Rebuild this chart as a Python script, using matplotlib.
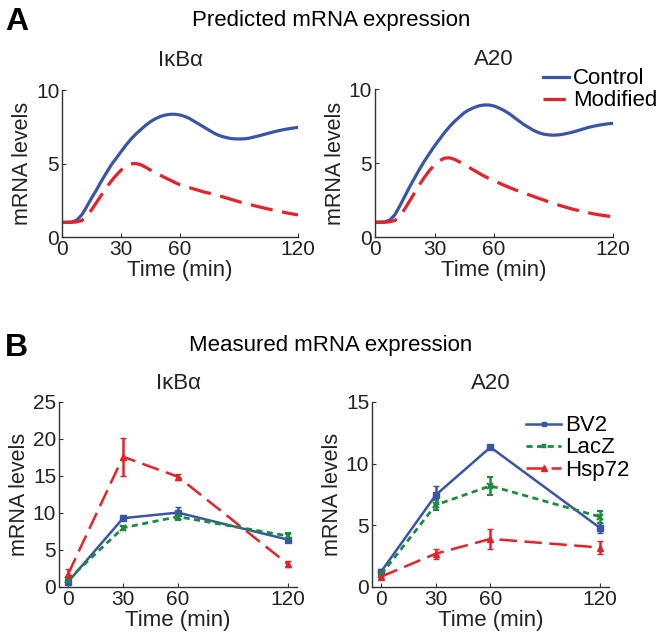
import numpy as np
import matplotlib.pyplot as plt
from matplotlib.lines import Line2D

plt.rcParams['font.family'] = ['Liberation Sans', 'DejaVu Sans']

# predicted curves (every 2.5 min)
t_pred = np.arange(0, 120.1, 2.5)
ikb_control = [1.0, 1.0, 1.02, 1.15, 1.5, 2.05, 2.65, 3.2, 3.8, 4.35, 4.9, 5.35, 5.8,
               6.25, 6.65, 7.0, 7.3, 7.6, 7.85, 8.05, 8.2, 8.3, 8.35, 8.35, 8.3, 8.2,
               8.05, 7.85, 7.65, 7.45, 7.25, 7.05, 6.9, 6.8, 6.72, 6.68, 6.67, 6.68,
               6.72, 6.8, 6.88, 6.97, 7.06, 7.15, 7.23, 7.3, 7.36, 7.41, 7.46]
ikb_modified = [1.0, 1.0, 1.0, 1.03, 1.12, 1.4, 1.85, 2.35, 2.85, 3.35, 3.8, 4.2, 4.55,
                4.82, 4.98, 5.0, 4.92, 4.75, 4.55, 4.37, 4.2, 4.03, 3.87, 3.7, 3.55, 3.45,
                3.35, 3.25, 3.15, 3.05, 2.98, 2.9, 2.8, 2.7, 2.6, 2.5, 2.4, 2.31, 2.22,
                2.14, 2.06, 1.98, 1.9, 1.83, 1.76, 1.69, 1.62, 1.56, 1.5]
a20_control = [1.0, 1.0, 1.02, 1.15, 1.5, 2.1, 2.75, 3.4, 4.0, 4.6, 5.15, 5.65, 6.15,
               6.6, 7.05, 7.45, 7.8, 8.1, 8.4, 8.6, 8.75, 8.87, 8.92, 8.92, 8.85, 8.72,
               8.55, 8.35, 8.1, 7.85, 7.6, 7.4, 7.2, 7.05, 6.95, 6.9, 6.88, 6.9, 6.95,
               7.02, 7.1, 7.2, 7.3, 7.4, 7.48, 7.55, 7.6, 7.65, 7.68]
a20_modified = [1.0, 1.0, 1.0, 1.03, 1.12, 1.4, 1.9, 2.45, 3.0, 3.55, 4.05, 4.5, 4.87,
                5.15, 5.33, 5.35, 5.25, 5.08, 4.9, 4.7, 4.5, 4.3, 4.12, 3.95, 3.8, 3.65,
                3.5, 3.36, 3.22, 3.1, 2.98, 2.86, 2.74, 2.62, 2.5, 2.38, 2.27, 2.16, 2.06,
                1.96, 1.87, 1.79, 1.71, 1.64, 1.57, 1.51, 1.46, 1.41, 1.37]

# measured data
t_meas = [0, 30, 60, 120]
ikb_bv2 = [0.7, 9.3, 10.05, 6.4]
ikb_bv2_err = [0.3, 0.3, 0.8, 0.3]
ikb_lacz = [1.0, 8.0, 9.5, 6.9]
ikb_lacz_err = [0.3, 0.3, 0.4, 0.4]
ikb_hsp = [1.75, 17.6, 14.9, 3.1]
ikb_hsp_err = [0.7, 2.6, 0.4, 0.4]
a20_bv2 = [1.24, 7.46, 11.33, 4.8]
a20_bv2_err = [0.2, 0.7, 0.1, 0.4]
a20_lacz = [1.0, 6.65, 8.2, 5.7]
a20_lacz_err = [0.2, 0.4, 0.75, 0.5]
a20_hsp = [0.84, 2.7, 3.9, 3.2]
a20_hsp_err = [0.1, 0.4, 0.8, 0.5]

blue = '#3a55a6'
red = '#e8202a'
green = '#1b8c3e'
axcol = '#333333'
txtcol = '#222222'

fig = plt.figure(figsize=(6.62, 6.39), dpi=100)


def style(ax, yticks):
    ax.spines['top'].set_visible(False)
    ax.spines['right'].set_visible(False)
    for s in ('left', 'bottom'):
        ax.spines[s].set_color(axcol)
        ax.spines[s].set_linewidth(1.0)
    ax.set_xticks([0, 30, 60, 120])
    ax.set_yticks(yticks)
    ax.tick_params(direction='in', length=3, width=0.8, color=axcol,
                   labelsize=15, pad=2, labelcolor=txtcol)
    ax.set_xlabel('Time (min)', fontsize=16, labelpad=1, color=txtcol)
    ax.set_ylabel('mRNA levels', fontsize=15.5, labelpad=2, color=txtcol)


# panel A
axA1 = fig.add_axes([0.0937, 0.6291, 0.3565, 0.230])
axA2 = fig.add_axes([0.5665, 0.6291, 0.3595, 0.2316])
for ax, ctrl, mod, title in [(axA1, ikb_control, ikb_modified, 'IκBα'),
                             (axA2, a20_control, a20_modified, 'A20')]:
    ax.plot(t_pred, ctrl, color=blue, lw=2.3, label='Control')
    ax.plot(t_pred, mod, color=red, lw=2.3, dashes=(7, 3), label='Modified')
    ax.set_xlim(0, 120)
    ax.set_ylim(0, 10)
    style(ax, [0, 5, 10])
    ax.set_title(title, fontsize=16, pad=17, color=txtcol)

axA2.legend(loc='upper left', bbox_to_anchor=(0.820, 0.893), bbox_transform=fig.transFigure,
            frameon=False, fontsize=16, handlelength=1.17, handletextpad=0.18,
            labelspacing=0.05, borderaxespad=0, borderpad=0)

# panel B
axB1 = fig.add_axes([0.0891, 0.0814, 0.3595, 0.2895])
axB2 = fig.add_axes([0.5619, 0.0814, 0.358, 0.2895])
for ax, bv, bve, lz, lze, hs, hse, ylim, yt, title in [
        (axB1, ikb_bv2, ikb_bv2_err, ikb_lacz, ikb_lacz_err, ikb_hsp, ikb_hsp_err,
         25, [0, 5, 10, 15, 20, 25], 'IκBα'),
        (axB2, a20_bv2, a20_bv2_err, a20_lacz, a20_lacz_err, a20_hsp, a20_hsp_err,
         15, [0, 5, 10, 15], 'A20')]:
    ax.errorbar(t_meas, bv, yerr=bve, color=blue, lw=1.8, marker='s', ms=4,
                capsize=2, elinewidth=1.8)
    ax.errorbar(t_meas, lz, yerr=lze, color=green, lw=2.0, marker='x', ms=4, mew=1.5,
                capsize=2, elinewidth=1.8, dashes=(2.2, 1.6))
    ax.errorbar(t_meas, hs, yerr=hse, color=red, lw=1.8, marker='^', ms=5,
                capsize=2, elinewidth=1.8, dashes=(7, 3))
    ax.set_xlim(-5, 125)
    ax.set_ylim(0, ylim)
    style(ax, yt)
    ax.set_title(title, fontsize=16, pad=9, color=txtcol)

handles = [Line2D([], [], color=blue, lw=1.8, marker='s', ms=3),
           Line2D([], [], color=green, lw=2.0, marker='x', ms=3, mew=1.5, dashes=(2.2, 1.6)),
           Line2D([], [], color=red, lw=1.8, marker='^', ms=4, dashes=(7, 3))]
axB2.legend(handles, ['BV2', 'LacZ', 'Hsp72'], loc='upper left',
            bbox_to_anchor=(0.795, 0.35), bbox_transform=fig.transFigure,
            frameon=False, fontsize=16, handlelength=1.58, handletextpad=0.18,
            labelspacing=0.05, borderaxespad=0, borderpad=0)

fig.text(0.008, 0.965, 'A', fontsize=23, fontweight='bold', va='center')
fig.text(0.5, 0.968, 'Predicted mRNA expression', fontsize=16, ha='center', va='center')
fig.text(0.008, 0.455, 'B', fontsize=23, fontweight='bold', va='center')
fig.text(0.5, 0.46, 'Measured mRNA expression', fontsize=16, ha='center', va='center')

fig.savefig('out.png', dpi=100)
